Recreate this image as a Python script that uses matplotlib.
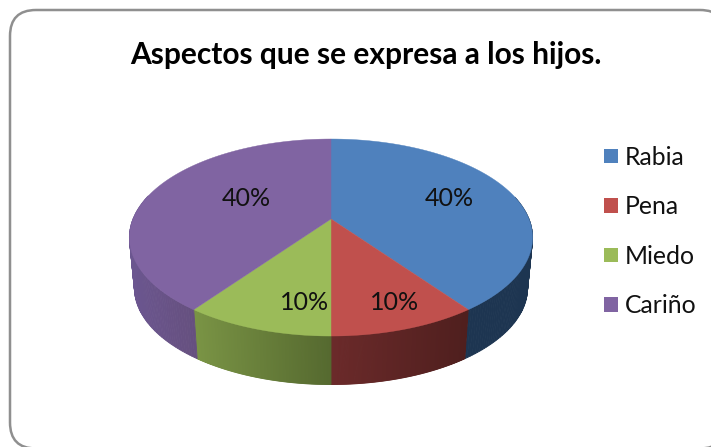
import numpy as np
import matplotlib
matplotlib.use("Agg")
import matplotlib.pyplot as plt
from matplotlib.patches import FancyBboxPatch, Polygon, Patch
from matplotlib.colors import to_rgb

title = "Aspectos que se expresa a los hijos."
categories = ["Rabia", "Pena", "Miedo", "Cariño"]
values = [40, 10, 10, 40]
labels = ["40%", "10%", "10%", "40%"]
label_pos = [(449, 198), (395, 303), (305, 303), (246, 198)]
top_colors = ["#4f81bd", "#c0504d", "#9bbb59", "#8064a2"]
# side shading: colour at the left and right end of each visible side
side_left = ["#1d3551", "#6b2a2a", "#7a9445", "#6b5690"]
side_right = ["#1d3551", "#4f1f1e", "#55692f", "#66507f"]
side_x = [(331, 533), (331, 468), (193, 331), (128, 193)]

W, H = 711, 447
plt.rcParams['font.family'] = ['Lato', 'DejaVu Sans']
fig = plt.figure(figsize=(W / 100, H / 100), dpi=100)
ax = fig.add_axes([0, 0, 1, 1])
ax.set_xlim(0, W)
ax.set_ylim(H, 0)
ax.axis('off')

frame = FancyBboxPatch((10, 10), 716, 438.5, boxstyle="round,pad=0,rounding_size=26",
                       fc="white", ec="#8f8f8f", lw=1.8)
ax.add_patch(frame)

cx, cy, d, a, b, c = 331, 237.5, 198, 98.5, -18.5, -0.188


def top_rim(theta):
    u, v = np.sin(theta), -np.cos(theta)
    den = 1 + c * v
    return cx + d * u / den, cy + (a * v + b) / den


def bottom_rim(theta):
    x, y = top_rim(theta)
    return cx + 0.975 * (x - cx), 288 + 0.98 * (y - cy)


apex = (cx, cy + b)
edges = np.cumsum([0] + values) / sum(values) * 2 * np.pi

# sides
for i in range(len(values)):
    th = np.linspace(edges[i], edges[i + 1], 160)
    xt, yt = top_rim(th)
    xb, yb = bottom_rim(th)
    c0, c1 = np.array(to_rgb(side_left[i])), np.array(to_rgb(side_right[i]))
    for j in range(len(th) - 1):
        if np.cos(th[j]) > 0.25:
            continue
        t = np.clip((0.5 * (xt[j] + xt[j + 1]) - side_x[i][0]) / (side_x[i][1] - side_x[i][0]), 0, 1)
        col = c0 + (c1 - c0) * t
        ax.add_patch(Polygon([(xt[j], yt[j]), (xt[j + 1], yt[j + 1]), (xb[j + 1], yb[j + 1]), (xb[j], yb[j])],
                             fc=col, ec=col, lw=0.6, zorder=2))

# top faces
for i in range(len(values)):
    th = np.linspace(edges[i], edges[i + 1], 200)
    xt, yt = top_rim(th)
    pts = np.vstack([[apex], np.column_stack([xt, yt])])
    ax.add_patch(Polygon(pts, fc=top_colors[i], ec=top_colors[i], lw=0.3, zorder=3))

for lab, (x, y) in zip(labels, label_pos):
    ax.text(x, y, lab, ha='center', va='center', fontsize=18, color="#111111", zorder=4)

ax.text(366, 64, title, ha='center', va='baseline', fontsize=21.5, fontweight='bold', color="black")

handles = [Patch(fc=col, ec=col, lw=0) for col in top_colors]
fs = 17.8
ax.legend(handles, categories, loc='upper left', bbox_to_anchor=(603.8, 146), bbox_transform=ax.transData,
          frameon=False, fontsize=fs, borderpad=0, borderaxespad=0, handlelength=14 * 0.72 / fs,
          handleheight=0.52, handletextpad=0.27, labelspacing=1.07, labelcolor="#111111")

fig.savefig("out.png", dpi=100, facecolor="white")
